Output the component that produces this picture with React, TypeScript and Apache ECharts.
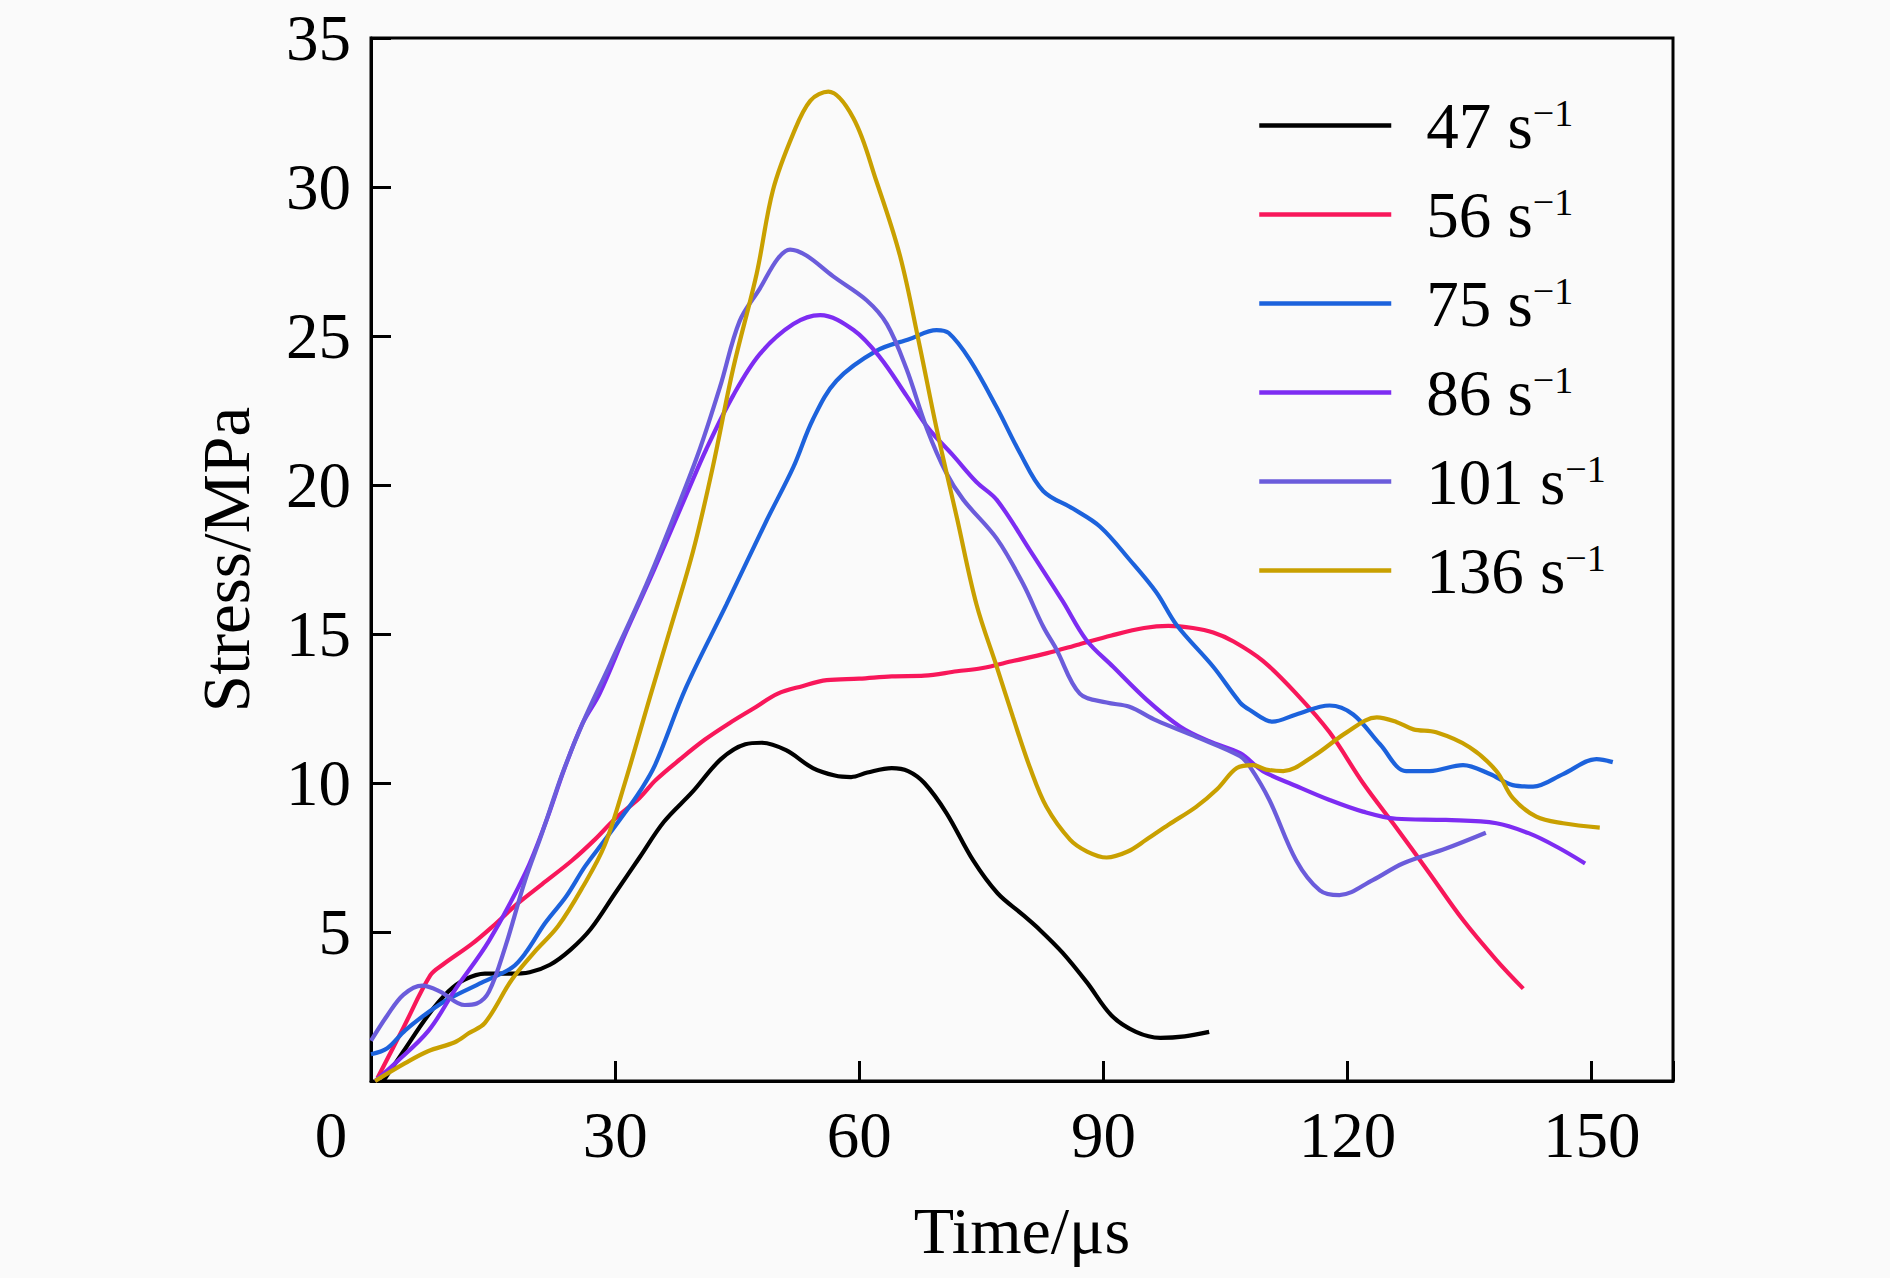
import React, { useEffect, useRef } from "react";
import * as echarts from "echarts";

const rates = ["47", "56", "75", "86", "101", "136"];
const colors = ["#000000", "#f8175a", "#1c62dc", "#7d2cf2", "#6b5cdb", "#c9a000"];

const xTicks = [0, 30, 60, 90, 120, 150];
const yTicks = [5, 10, 15, 20, 25, 30, 35];

const s47 = [
  [1.5, 0], [4, 1.0], [7, 2.2], [9.5, 3.0], [11.5, 3.4], [14, 3.6], [17, 3.6], [19.5, 3.65],
  [22, 3.9], [24.5, 4.4], [27, 5.1], [30, 6.3], [33, 7.5], [36, 8.7], [39.5, 9.7], [43, 10.8],
  [46, 11.3], [48, 11.35], [51, 11.1], [54.3, 10.5], [57, 10.25], [59, 10.2], [61, 10.35],
  [64, 10.5], [66, 10.4], [68, 10.0], [70.7, 9.0], [74, 7.4], [77, 6.3], [80, 5.6], [82.2, 5.07],
  [85, 4.3], [88, 3.3], [91, 2.2], [94, 1.65], [97, 1.45], [100, 1.5], [103, 1.65],
];

const s56 = [
  [0.8, 0.1], [4, 1.8], [7.3, 3.55], [8.8, 3.9], [12.4, 4.6], [15, 5.2], [18, 5.95], [21, 6.6],
  [24.7, 7.4], [27.5, 8.1], [30, 8.8], [33, 9.5], [35, 10.1], [38, 10.8], [41, 11.45], [44, 12.0],
  [47, 12.5], [50, 13.0], [53, 13.25], [56, 13.45], [60, 13.5], [64, 13.58], [68, 13.6], [72, 13.75],
  [75, 13.85], [79, 14.1], [83, 14.35], [87, 14.65], [91, 14.95], [95, 15.2], [98, 15.27],
  [101, 15.2], [103.5, 15.05], [106, 14.75], [109.6, 14.1], [113.7, 13.0], [117.8, 11.7],
  [121.9, 10.0], [126, 8.5], [130, 7.0], [134.2, 5.4], [138.3, 4.06], [141.6, 3.1],
];

const s75 = [
  [0, 0.9], [2, 1.1], [4.2, 1.7], [7, 2.3], [9.5, 2.75], [13.6, 3.3], [17.3, 3.8], [19, 4.3],
  [21.4, 5.3], [24, 6.2], [26.3, 7.2], [28.5, 8.0], [31.2, 9.0], [33, 9.7], [34.9, 10.6],
  [38.7, 13.2], [43.7, 16.0], [48.6, 18.8], [51.9, 20.6], [54.3, 22.2], [57.2, 23.5], [62.1, 24.5],
  [66.2, 24.9], [69.5, 25.2], [71, 25.1], [73.6, 24.2], [76.9, 22.6], [79.7, 21.1], [82.6, 19.8],
  [86.3, 19.2], [89.6, 18.6], [93.2, 17.5], [96.5, 16.4], [99, 15.3], [103.5, 13.9], [106.8, 12.7],
  [108, 12.45], [110.8, 12.06], [113.7, 12.3], [117.8, 12.6], [120.7, 12.3], [124, 11.3],
  [127.2, 10.4], [130.1, 10.4], [134.2, 10.6], [137.5, 10.3], [140.3, 9.93], [142.8, 9.88],
  [146.5, 10.3], [150.6, 10.8], [152.6, 10.7],
];

const s86 = [
  [0.5, 0], [3, 0.6], [7.1, 1.7], [10.3, 3.05], [14.5, 4.7], [19, 7.0], [21.5, 8.7], [23.8, 10.5],
  [26, 12.0], [28.1, 13.0], [31.4, 15.1], [34.7, 17.1], [38.8, 19.7], [41.2, 21.2], [44.5, 23.0],
  [47.8, 24.4], [51.9, 25.4], [55.2, 25.7], [59.3, 25.2], [62.5, 24.3], [65.8, 23.0], [68.5, 21.9],
  [71.5, 21.0], [74.4, 20.1], [76.9, 19.5], [81, 17.8], [85, 16.1], [87.9, 14.8], [91.2, 13.9],
  [95.3, 12.8], [99.4, 11.9], [103, 11.4], [106.8, 11.0], [109.6, 10.4], [113.7, 9.9],
  [117.8, 9.43], [121.9, 9.04], [126, 8.8], [132.1, 8.76], [138.3, 8.65], [142.4, 8.3],
  [145.7, 7.86], [149.2, 7.3],
];

const s101 = [
  [0, 1.35], [2, 2.2], [4, 2.9], [6.3, 3.2], [8.5, 3.0], [11.5, 2.55], [13, 2.6], [14.5, 3.0],
  [16.5, 4.5], [18.9, 6.7], [21, 8.3], [23.5, 10.3], [26, 12.0], [29.4, 14.0], [33.9, 16.7],
  [37.6, 19.2], [40.4, 21.2], [42.9, 23.3], [45.3, 25.5], [47.8, 26.6], [50, 27.6], [51.5, 27.9],
  [53.5, 27.7], [56.8, 27.0], [60.9, 26.2], [63.4, 25.4], [65.8, 23.9], [68.3, 21.9], [70.7, 20.4],
  [72.8, 19.5], [76.9, 18.2], [80.1, 16.7], [82.6, 15.25], [84.2, 14.5], [87.1, 13.0], [90.4, 12.7],
  [93.2, 12.56], [96.5, 12.1], [101.4, 11.55], [106.8, 10.9], [108, 10.55], [110.4, 9.43],
  [113.7, 7.4], [116.6, 6.4], [119, 6.24], [123.1, 6.74], [126.8, 7.3], [132.1, 7.8], [137, 8.33],
];

const s136 = [
  [0.5, 0], [4.2, 0.6], [7, 1.0], [10.3, 1.3], [12, 1.6], [14, 1.95], [17.3, 3.4], [20, 4.3],
  [23, 5.2], [26, 6.5], [28.7, 7.9], [31.2, 10.0], [34.3, 12.9], [36.7, 15.1], [39.6, 17.8],
  [42, 20.6], [44.5, 23.9], [47.4, 27.1], [49.4, 29.9], [51.9, 31.8], [54, 32.9], [56.2, 33.2],
  [59.3, 32.3], [62.1, 30.2], [65, 27.7], [67.4, 24.7], [69.5, 21.9], [72, 18.9], [74.4, 16.0],
  [76.9, 13.9], [78.9, 12.2], [81, 10.5], [83, 9.2], [85.9, 8.1], [88, 7.7], [90.4, 7.5], [93, 7.7],
  [95.3, 8.1], [98, 8.6], [101.4, 9.2], [104, 9.8], [106.4, 10.5], [108.4, 10.6], [110, 10.45],
  [112.1, 10.4], [115.8, 10.9], [119.9, 11.7], [123.6, 12.2], [126, 12.05], [128.1, 11.8],
  [130.9, 11.7], [135, 11.2], [138.3, 10.4], [140.3, 9.5], [143.2, 8.87], [146.5, 8.65], [151, 8.5],
];

const seriesData = [s47, s56, s75, s86, s101, s136];

const FONT = "Liberation Serif";

export default function App() {
  const ref = useRef<HTMLDivElement>(null);
  useEffect(() => {
    if (!ref.current) return;
    const chart = echarts.init(ref.current, undefined, { renderer: "svg" });
    const names = rates.map((r) => r + " s−1");
    chart.setOption({
      animation: false,
      backgroundColor: "#fafafa",
      grid: {
        left: 371,
        right: 217,
        top: 38,
        bottom: 197,
        show: true,
        borderColor: "#000",
        borderWidth: 3,
        backgroundColor: "transparent",
      },
      legend: {
        orient: "vertical",
        left: 1257,
        top: 93,
        padding: 0,
        itemWidth: 132,
        itemHeight: 6,
        itemGap: 24,
        data: names,
        itemStyle: { opacity: 0 },
        lineStyle: { width: 4.5 },
        formatter: (name: string) => {
          const r = name.split(" ")[0];
          return "{n|" + r + " s}{s|−1}";
        },
        textStyle: {
          color: "#000",
          fontFamily: FONT,
          fontSize: 65,
          lineHeight: 64,
          rich: {
            n: { fontFamily: FONT, fontSize: 65, lineHeight: 64, color: "#000", padding: [0, 0, 0, 30] },
            s: { fontFamily: FONT, fontSize: 38, lineHeight: 34, color: "#000", verticalAlign: "top" },
          },
        },
      },
      xAxis: {
        type: "value",
        min: 0,
        max: 160,
        interval: 30,
        name: "Time/μs",
        nameLocation: "middle",
        nameGap: 116,
        nameTextStyle: { fontFamily: FONT, fontSize: 66, color: "#000" },
        axisLine: { show: true, lineStyle: { color: "#000", width: 3 } },
        axisTick: { show: true, inside: true, length: 20, lineStyle: { color: "#000", width: 3 } },
        splitLine: { show: false },
        axisLabel: {
          margin: 21,
          fontFamily: FONT,
          fontSize: 65,
          color: "#000",
          formatter: (v: number) => {
            if (!xTicks.includes(v)) return "";
            if (v === 0) return "{o|0}";
            return String(v);
          },
          rich: {
            o: { fontFamily: FONT, fontSize: 65, color: "#000", padding: [0, 80, 0, 0] },
          },
        },
      },
      yAxis: {
        type: "value",
        min: 0,
        max: 35,
        interval: 5,
        name: "Stress/MPa",
        nameLocation: "middle",
        nameGap: 112,
        nameTextStyle: { fontFamily: FONT, fontSize: 67, color: "#000" },
        axisLine: { show: true, lineStyle: { color: "#000", width: 3 } },
        axisTick: { show: true, inside: true, length: 20, lineStyle: { color: "#000", width: 3 } },
        splitLine: { show: false },
        axisLabel: {
          margin: 20,
          fontFamily: FONT,
          fontSize: 65,
          color: "#000",
          formatter: (v: number) => (yTicks.includes(v) ? String(v) : ""),
        },
      },
      series: seriesData.map((d, i) => ({
        name: names[i],
        type: "line",
        data: d,
        smooth: 0.35,
        symbol: "none",
        showSymbol: false,
        lineStyle: { color: colors[i], width: 4.2 },
        itemStyle: { color: colors[i] },
        clip: false,
      })),
    });
    return () => chart.dispose();
  }, []);
  return (
    <div
      ref={ref}
      style={{ position: "fixed", left: 0, top: 0, width: 1890, height: 1278 }}
    />
  );
}
